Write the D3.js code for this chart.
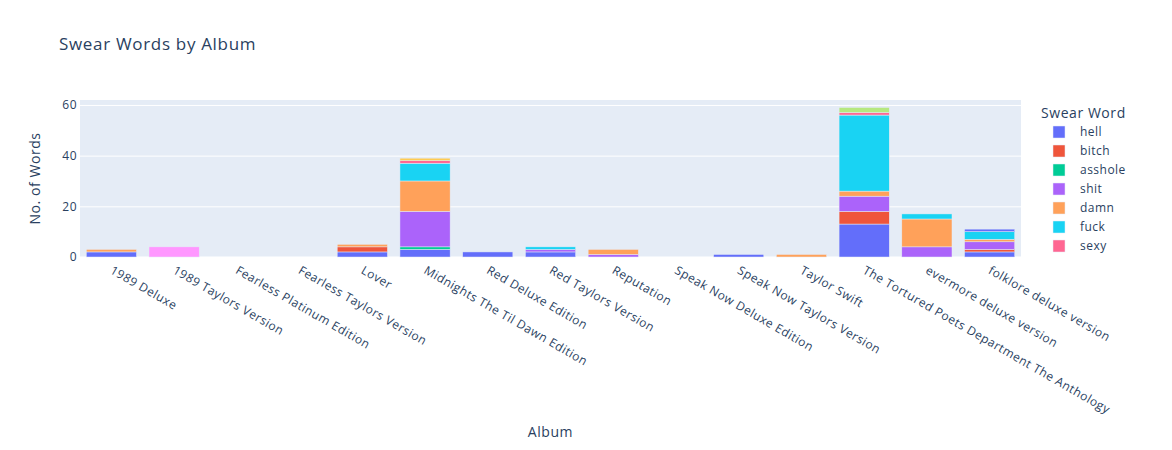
<!DOCTYPE html>
<html>
<head>
<meta charset="utf-8">
<script src="https://cdn.jsdelivr.net/npm/d3@7"></script>
<style>
  body { margin: 0; background: #fff; }
  svg text { font-family: "Open Sans", verdana, arial, sans-serif; fill: #2a3f5f; letter-spacing: 0.04em; }
</style>
</head>
<body>
<div id="chart"></div>
<script>
"use strict";

var albums = ["1989 Deluxe", "1989 Taylors Version", "Fearless Platinum Edition", "Fearless Taylors Version",
    "Lover", "Midnights The Til Dawn Edition", "Red Deluxe Edition", "Red Taylors Version", "Reputation",
    "Speak Now Deluxe Edition", "Speak Now Taylors Version", "Taylor Swift",
    "The Tortured Poets Department The Anthology", "evermore deluxe version", "folklore deluxe version"];

var words = ["hell", "bitch", "asshole", "shit", "damn", "fuck", "sexy", "bullshit", "slut", "goddamn", "motherfucker"];

var hell         = [2, 0, 0, 0, 2, 3, 2, 2, 0, 0, 1, 0, 13, 0, 2];
var bitch        = [0, 0, 0, 0, 2, 0, 0, 0, 0, 0, 0, 0, 5, 0, 1];
var asshole      = [0, 0, 0, 0, 0, 1, 0, 0, 0, 0, 0, 0, 0, 0, 0];
var shit         = [0, 0, 0, 0, 0, 14, 0, 1, 1, 0, 0, 0, 6, 4, 3];
var damn         = [1, 0, 0, 0, 1, 12, 0, 0, 2, 0, 0, 1, 2, 11, 1];
var fuck         = [0, 0, 0, 0, 0, 7, 0, 1, 0, 0, 0, 0, 30, 2, 3];
var sexy         = [0, 0, 0, 0, 0, 1, 0, 0, 0, 0, 0, 0, 1, 0, 0];
var bullshit     = [0, 0, 0, 0, 0, 0, 0, 0, 0, 0, 0, 0, 2, 0, 0];
var slut         = [0, 4, 0, 0, 0, 0, 0, 0, 0, 0, 0, 0, 0, 0, 0];
var goddamn      = [0, 0, 0, 0, 0, 1, 0, 0, 0, 0, 0, 0, 0, 0, 0];
var motherfucker = [0, 0, 0, 0, 0, 0, 0, 0, 0, 0, 0, 0, 0, 0, 1];

var counts = [hell, bitch, asshole, shit, damn, fuck, sexy, bullshit, slut, goddamn, motherfucker];
var yTicks = [0, 20, 40, 60];

var colors = ["#636efa", "#EF553B", "#00cc96", "#ab63fa", "#FFA15A", "#19d3f3", "#FF6692",
    "#B6E880", "#FF97FF", "#FECB52", "#636efa"];

var W = 1172, H = 450;
var plotL = 80, plotR = 1021, plotT = 100, plotB = 257;

var svg = d3.select("#chart").append("svg")
    .attr("width", W)
    .attr("height", H);

// one row per album, one column per word
var table = albums.map(function(a, i){
    var row = {album: a};
    words.forEach(function(w, j){ row[w] = counts[j][i]; });
    return row;
});
var stacked = d3.stack().keys(words)(table);
var maxTotal = d3.max(table, function(r){ return d3.sum(words, function(w){ return r[w]; }); });

var x = d3.scaleBand().domain(albums).range([plotL, plotR]).paddingInner(0.2).paddingOuter(0.1);
var y = d3.scaleLinear().domain([0, maxTotal * 1.05]).range([plotB, plotT]);

svg.append("rect")
    .attr("x", plotL)
    .attr("y", plotT)
    .attr("width", plotR - plotL)
    .attr("height", plotB - plotT)
    .attr("fill", "#E5ECF6");

// gridlines
var yAxis = svg.append("g")
    .attr("transform", "translate(" + plotL + ",0)")
    .call(d3.axisLeft(y).tickValues(yTicks).tickSize(-(plotR - plotL)).tickPadding(3));
yAxis.select(".domain").remove();
yAxis.selectAll("line").attr("stroke", "#fff").attr("stroke-width", function(d){ return d === 0 ? 2 : 1; });
yAxis.selectAll("text").attr("font-size", 12).style("fill", "#2a3f5f");

svg.selectAll("g.layer").data(stacked).enter()
    .append("g")
        .attr("class", "layer")
        .attr("fill", function(d, i){ return colors[i]; })
    .selectAll("rect").data(function(d){ return d; }).enter()
        .append("rect")
            .attr("x", function(d){ return x(d.data.album); })
            .attr("y", function(d){ return y(d[1]); })
            .attr("width", x.bandwidth())
            .attr("height", function(d){ return y(d[0]) - y(d[1]); })
            .attr("stroke", "#E5ECF6")
            .attr("stroke-width", 0.5);

// x tick labels, rotated
svg.selectAll("text.xlab").data(albums).enter()
    .append("text")
        .attr("class", "xlab")
        .attr("transform", function(d){ return "translate(" + (x(d) + x.bandwidth() / 2) + "," + (plotB + 12) + ") rotate(30)"; })
        .attr("dy", "0.35em")
        .attr("font-size", 12)
        .text(function(d){ return d; });

svg.append("text")
    .attr("x", 59)
    .attr("y", 50)
    .attr("font-size", 17)
    .text("Swear Words by Album");

svg.append("text")
    .attr("x", (plotL + plotR) / 2)
    .attr("y", 437)
    .attr("text-anchor", "middle")
    .attr("font-size", 14)
    .text("Album");

svg.append("text")
    .attr("transform", "translate(40," + (plotT + plotB) / 2 + ") rotate(-90)")
    .attr("text-anchor", "middle")
    .attr("font-size", 14)
    .text("No. of Words");

// legend (overflowing items are clipped, like the scrolled legend)
svg.append("clipPath").attr("id", "legclip")
    .append("rect").attr("x", 1030).attr("y", 95).attr("width", 142).attr("height", 161);

var legend = svg.append("g").attr("clip-path", "url(#legclip)");
legend.append("text")
    .attr("x", 1041)
    .attr("y", 118)
    .attr("font-size", 14)
    .text("Swear Word");

var items = legend.selectAll("g.item").data(words).enter()
    .append("g")
        .attr("class", "item")
        .attr("transform", function(d, i){ return "translate(1053," + (132 + i * 19) + ")"; });
items.append("rect")
    .attr("x", 0)
    .attr("y", -6)
    .attr("width", 12)
    .attr("height", 12)
    .attr("fill", function(d, i){ return colors[i]; })
    .attr("stroke", "#E5ECF6")
    .attr("stroke-width", 0.5);
items.append("text")
    .attr("x", 27)
    .attr("dy", "0.35em")
    .attr("font-size", 12)
    .text(function(d){ return d; });
</script>
</body>
</html>
